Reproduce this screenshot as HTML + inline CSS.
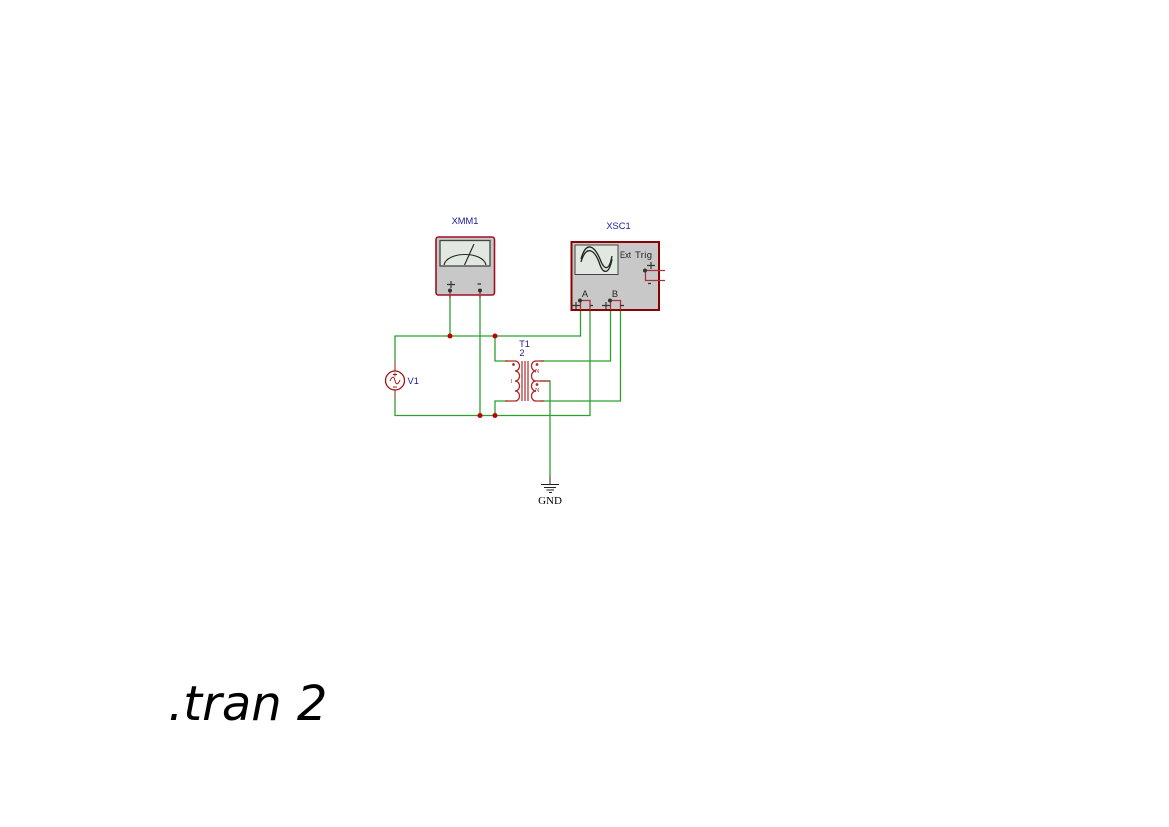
<!DOCTYPE html>
<html><head><meta charset="utf-8"><style>
html,body{margin:0;padding:0;background:#fff;width:1169px;height:827px;overflow:hidden}
svg{display:block}
text{font-family:"Liberation Sans",sans-serif}
</style></head><body>
<svg width="1169" height="827" viewBox="0 0 1169 827" xmlns="http://www.w3.org/2000/svg">
<g fill="none" stroke="#2ca02c" stroke-width="1.300">
<path d="M395 362V336H580.500V310"/>
<path d="M395 398V415.500H590V310"/>
<path d="M450 295V336"/>
<path d="M480 295V415.500"/>
<path d="M495 336V361H508"/>
<path d="M495 415.500V401H508"/>
<path d="M540 361H610.500V310"/>
<path d="M540 401H620.500V310"/>
<path d="M540 381H550V476"/>
</g>
<g fill="#c00000"><circle cx="450" cy="336" r="2.500"/><circle cx="495" cy="336" r="2.500"/><circle cx="480" cy="415.500" r="2.500"/><circle cx="495" cy="415.500" r="2.500"/></g>
<!-- XMM1 -->
<rect x="436" y="237" width="58.500" height="58" rx="2.500" fill="#c8c8c8" stroke="#a01020" stroke-width="1.600"/>
<rect x="440" y="240.500" width="50" height="25.500" fill="#e0e8df" stroke="#444" stroke-width="1.300"/>
<path d="M444 265C447 251 483 251 486 265" fill="none" stroke="#222" stroke-width="1.100"/>
<path d="M464.500 265L474 244" fill="none" stroke="#222" stroke-width="1.100"/>
<path d="M450 291V298M480 291V298" stroke="#a83040" stroke-width="1.300"/>
<circle cx="450" cy="290.500" r="2" fill="#333"/><circle cx="480" cy="290.500" r="2" fill="#333"/>
<path d="M447 284.500H455M451 281V288M477.500 284H481" stroke="#333" stroke-width="1.200" fill="none"/>
<text x="465" y="224" font-size="9.300" fill="#1a1a9a" text-anchor="middle">XMM1</text>
<!-- XSC1 -->
<rect x="571.500" y="242" width="87.500" height="68" fill="#c8c8c8" stroke="#8b0000" stroke-width="2"/>
<rect x="575" y="245" width="43" height="29.500" fill="#e0e8df" stroke="#444" stroke-width="1"/>
<path d="M581 259C586 241 594 245 600 259C604 270 609 272 612 256" fill="none" stroke="#222" stroke-width="1.300"/>
<path d="M581 262C586 245 594 249 599 262C603 275 609 275 612 259" fill="none" stroke="#222" stroke-width="1.300"/>
<text x="620" y="258" font-size="9.500" fill="#222" textLength="11" lengthAdjust="spacingAndGlyphs">Ext</text>
<text x="635" y="258" font-size="9.500" fill="#222" textLength="17" lengthAdjust="spacing">Trig</text>
<text x="585" y="297" font-size="9.300" fill="#222" text-anchor="middle">A</text>
<text x="615" y="297" font-size="9.300" fill="#222" text-anchor="middle">B</text>
<path d="M580.500 300.500H590V310M580.500 300.500V310M610.500 300.500H620.500V310M610.500 300.500V310M645.500 270.500V280.500H665M645.500 270.500H665" fill="none" stroke="#a83040" stroke-width="1.300"/>
<path d="M572 305.500H580M576 302V309M602 305.500H610M606 302V309M647 265.500H655M651 262V269M648 283.500H651M590 305.500H593M620 305.500H624" stroke="#333" stroke-width="1.200" fill="none"/>
<g fill="#333"><circle cx="580" cy="300.500" r="2"/><circle cx="610" cy="300.500" r="2"/><circle cx="645" cy="270.500" r="2"/></g>
<text x="618.500" y="229" font-size="9.300" fill="#1a1a9a" text-anchor="middle">XSC1</text>
<!-- T1 -->
<text x="524.500" y="347" font-size="9.300" fill="#1a1a9a" text-anchor="middle">T1</text>
<text x="522" y="356" font-size="9.300" fill="#1a1a9a" text-anchor="middle">2</text>
<g fill="none" stroke="#b02828" stroke-width="1.300">
<path d="M505 361H515C521 361 521 371 515 371C521 371 521 381 515 381C521 381 521 391 515 391C521 391 521 401 515 401H505"/>
<path d="M544 361H536C530 361 530 371 536 371C530 371 530 381 536 381H550M536 381C530 381 530 391 536 391C530 391 530 401 536 401H544"/>
<path d="M522 361V401M525 361V401M528 361V401" stroke="#c06060" stroke-width="1.600"/>
</g>
<circle cx="513.500" cy="364.500" r="1.400" fill="#a03030"/><circle cx="537" cy="364.500" r="1.400" fill="#a03030"/><circle cx="537" cy="384.500" r="1.400" fill="#a03030"/>
<text x="511" y="383" font-size="5.500" fill="#a02020">I</text>
<text x="535" y="373" font-size="6" fill="#a02020" style="font-family:'Liberation Serif',serif">N</text>
<text x="535" y="392" font-size="6" fill="#a02020" style="font-family:'Liberation Serif',serif">N</text>
<!-- V1 -->
<path d="M395 362V371M395 389V398" stroke="#a85050" stroke-width="1.300"/>
<circle cx="395" cy="380.500" r="9.500" fill="#fff" stroke="#a01818" stroke-width="1.300"/>
<path d="M390 381C392 376 394 376 395 380.500C396 385 398 385 400 380" fill="none" stroke="#a01818" stroke-width="1"/>
<path d="M393 374.500H397M395 372.500V376.500M393 387H397" stroke="#a01818" stroke-width="0.900"/>
<text x="407.500" y="384" font-size="9.300" fill="#1a1a9a">V1</text>
<!-- GND -->
<path d="M550 476V484" stroke="#555" stroke-width="1.300"/>
<path d="M541 484.500H559M544 487.500H556M546.500 490H554M549 492.500H552" stroke="#222" stroke-width="1"/>
<text x="550" y="504" font-size="11" fill="#000" text-anchor="middle" style="font-family:'Liberation Serif',serif">GND</text>
<text x="168" y="720" font-size="48" font-style="italic" fill="#000" style="font-family:'DejaVu Sans',sans-serif">.tran 2</text>
</svg>
</body></html>
